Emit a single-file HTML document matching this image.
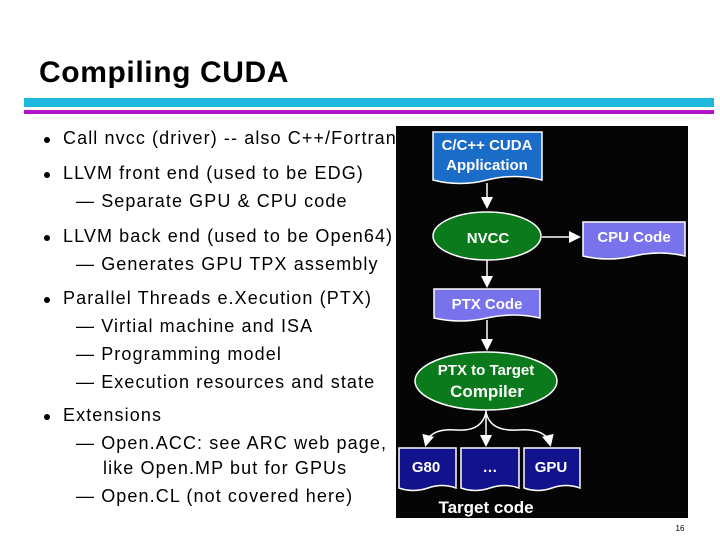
<!DOCTYPE html>
<html><head><style>
body{margin:0;width:720px;height:540px;background:#fff;position:relative;overflow:hidden;font-family:"Liberation Sans",sans-serif}
h1{position:absolute;left:39px;top:56px;margin:0;font-size:30px;font-weight:bold;color:#000;letter-spacing:0.6px}
.ln{position:absolute;left:24px;width:690px}
.t{position:absolute;font-size:18px;color:#000;white-space:nowrap;letter-spacing:1.1px}
.b{position:absolute;left:44px;width:6px;height:6px;border-radius:50%;background:#000}
</style></head><body>
<h1>Compiling CUDA</h1>
<div class="ln" style="top:98px;height:9px;background:#1fb8dc"></div>
<div class="ln" style="top:110px;height:4px;background:#b412c8"></div>

<div class="b" style="top:137px"></div><div class="t" style="left:63px;top:128px">Call nvcc (driver) -- also C++/Fortran</div>
<div class="b" style="top:172px"></div><div class="t" style="left:63px;top:163px">LLVM front end (used to be EDG)</div>
<div class="t" style="left:76px;top:191px">— Separate GPU &amp; CPU code</div>
<div class="b" style="top:235px"></div><div class="t" style="left:63px;top:226px">LLVM back end (used to be Open64)</div>
<div class="t" style="left:76px;top:254px">— Generates GPU TPX assembly</div>
<div class="b" style="top:297px"></div><div class="t" style="left:63px;top:288px">Parallel Threads e.Xecution (PTX)</div>
<div class="t" style="left:76px;top:316px">— Virtial machine and ISA</div>
<div class="t" style="left:76px;top:344px">— Programming model</div>
<div class="t" style="left:76px;top:372px">— Execution resources and state</div>
<div class="b" style="top:414px"></div><div class="t" style="left:63px;top:405px">Extensions</div>
<div class="t" style="left:76px;top:433px">— Open.ACC: see ARC web page,</div>
<div class="t" style="left:103px;top:458px">like Open.MP but for GPUs</div>
<div class="t" style="left:76px;top:486px">— Open.CL (not covered here)</div>

<svg style="position:absolute;left:0;top:0" width="720" height="540">
<defs><marker id="a" markerWidth="8" markerHeight="8" refX="6" refY="4" orient="auto"><path d="M0,0L8,4L0,8z" fill="#fff"/></marker></defs>
<rect x="396" y="126" width="292" height="392" fill="#050505"/>
<g stroke="#fff" stroke-width="1.5">
<path d="M433,132H542V180Q515,173 487,180Q460,187 433,180Z" fill="#1a6cc8"/>
<path d="M583,222H685V256Q660,250 634,256Q608,262 583,256Z" fill="#7872ec"/>
<path d="M434,289H540V318Q513,312 487,318Q460,324 434,318Z" fill="#7872ec"/>
<path d="M399,448H456V488Q442,483 428,488Q413,493 399,488Z" fill="#12128c"/>
<path d="M461,448H519V488Q505,483 490,488Q475,493 461,488Z" fill="#12128c"/>
<path d="M524,448H580V488Q566,483 552,488Q538,493 524,488Z" fill="#12128c"/>
<ellipse cx="487" cy="236" rx="54" ry="24" fill="#0a7a1c"/>
<ellipse cx="486" cy="381" rx="71" ry="29" fill="#0a7a1c"/>
</g>
<g stroke="#fff" stroke-width="1.5" fill="none" marker-end="url(#a)">
<path d="M487,183V206"/>
<path d="M542,237H578"/>
<path d="M487,260V285"/>
<path d="M487,320V348"/>
<path d="M486,410V444"/>
<path d="M486,412Q482,432 456,430Q430,428 426,444"/>
<path d="M486,412Q490,432 518,430Q546,428 550,444"/>
</g>
<g fill="#fff" font-weight="bold" font-size="15" text-anchor="middle" font-family="Liberation Sans,sans-serif">
<text x="487" y="150">C/C++ CUDA</text>
<text x="487" y="170">Application</text>
<text x="488" y="243">NVCC</text>
<text x="634" y="242">CPU Code</text>
<text x="487" y="309">PTX Code</text>
<text x="486" y="375">PTX to Target</text>
<text x="487" y="397" font-size="17">Compiler</text>
<text x="426" y="472">G80</text>
<text x="490" y="472">…</text>
<text x="551" y="472">GPU</text>
<text x="486" y="513" font-size="17">Target code</text>
</g>
<text x="680" y="531" font-size="8" text-anchor="middle" fill="#000">16</text>
</svg>
</body></html>
